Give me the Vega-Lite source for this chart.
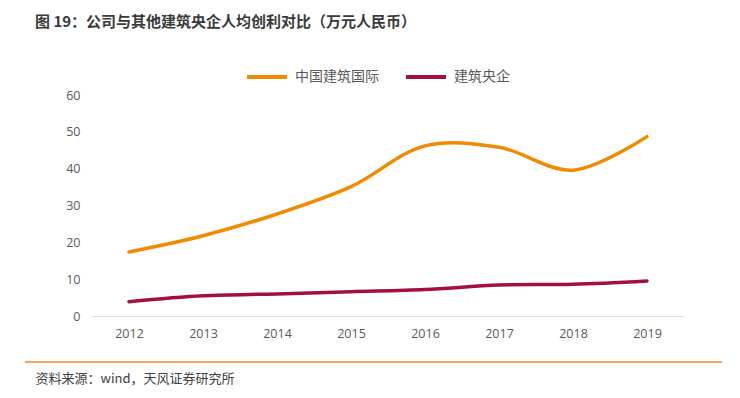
{
  "$schema": "https://vega.github.io/schema/vega-lite/v6.json",
  "width": 592,
  "height": 221,
  "autosize": {"type": "none"},
  "padding": {"left": 92, "top": 95, "right": 56, "bottom": 82},
  "background": "white",
  "config": {
    "view": {"stroke": null},
    "font": "Noto Sans CJK SC"
  },
  "title": {
    "text": "图 19：公司与其他建筑央企人均创利对比（万元人民币）",
    "anchor": "start",
    "frame": "group",
    "orient": "top",
    "dx": -57,
    "offset": 25,
    "fontSize": 15,
    "fontWeight": "bold",
    "color": "#3a3a3a",
    "font": "Noto Sans CJK SC"
  },
  "layer": [
    {
      "data": {
        "values": [
          {"year": "2012", "series": "中国建筑国际", "value": 17.4},
          {"year": "2013", "series": "中国建筑国际", "value": 21.8},
          {"year": "2014", "series": "中国建筑国际", "value": 27.7},
          {"year": "2015", "series": "中国建筑国际", "value": 35.1},
          {"year": "2016", "series": "中国建筑国际", "value": 46.2},
          {"year": "2017", "series": "中国建筑国际", "value": 45.8},
          {"year": "2018", "series": "中国建筑国际", "value": 39.6},
          {"year": "2019", "series": "中国建筑国际", "value": 48.7},
          {"year": "2012", "series": "建筑央企", "value": 3.9},
          {"year": "2013", "series": "建筑央企", "value": 5.5},
          {"year": "2014", "series": "建筑央企", "value": 6.0},
          {"year": "2015", "series": "建筑央企", "value": 6.6},
          {"year": "2016", "series": "建筑央企", "value": 7.2},
          {"year": "2017", "series": "建筑央企", "value": 8.4},
          {"year": "2018", "series": "建筑央企", "value": 8.6},
          {"year": "2019", "series": "建筑央企", "value": 9.5}
        ]
      },
      "mark": {"type": "line", "interpolate": "catmull-rom", "strokeWidth": 3.5, "strokeCap": "round"},
      "encoding": {
        "x": {
          "field": "year",
          "type": "ordinal",
          "scale": {"type": "point", "padding": 0.5},
          "axis": {
            "labelAngle": 0,
            "ticks": false,
            "domainColor": "#d9d9d9",
            "domainWidth": 1,
            "labelColor": "#595959",
            "labelFontSize": 12.5,
            "labelFont": "Open Sans",
            "labelPadding": 11,
            "title": "资料来源：wind，天风证券研究所",
            "titleAnchor": "start",
            "titleX": -57,
            "titleY": 62,
            "titleBaseline": "middle",
            "titleFontSize": 13,
            "titleFontWeight": "normal",
            "titleColor": "#404040",
            "titleFont": "Noto Sans CJK SC"
          }
        },
        "y": {
          "field": "value",
          "type": "quantitative",
          "scale": {"domain": [0, 60], "nice": false},
          "axis": {
            "values": [0, 10, 20, 30, 40, 50, 60],
            "grid": false,
            "domain": false,
            "ticks": false,
            "labelColor": "#595959",
            "labelFontSize": 12.5,
            "labelFont": "Open Sans",
            "labelPadding": 12,
            "title": null
          }
        },
        "color": {
          "field": "series",
          "type": "nominal",
          "scale": {"domain": ["中国建筑国际", "建筑央企"], "range": ["#F08A00", "#A50F3C"]},
          "legend": {
            "title": null,
            "orient": "none",
            "direction": "horizontal",
            "legendX": 153,
            "legendY": -40,
            "symbolType": "stroke",
            "symbolSize": 1600,
            "symbolStrokeWidth": 4,
            "labelFontSize": 14,
            "labelColor": "#595959",
            "labelFont": "Noto Sans CJK SC",
            "labelOffset": 6,
            "columnPadding": 19
          }
        }
      }
    },
    {
      "data": {"values": [{"pos": "top"}, {"pos": "bottom"}]},
      "mark": {"type": "rule", "color": "#F5A04A", "strokeWidth": 1.5},
      "encoding": {
        "x": {"value": -67},
        "x2": {"value": 630},
        "y": {"condition": {"test": "datum.pos === 'top'", "value": -57}, "value": 267}
      }
    }
  ]
}
